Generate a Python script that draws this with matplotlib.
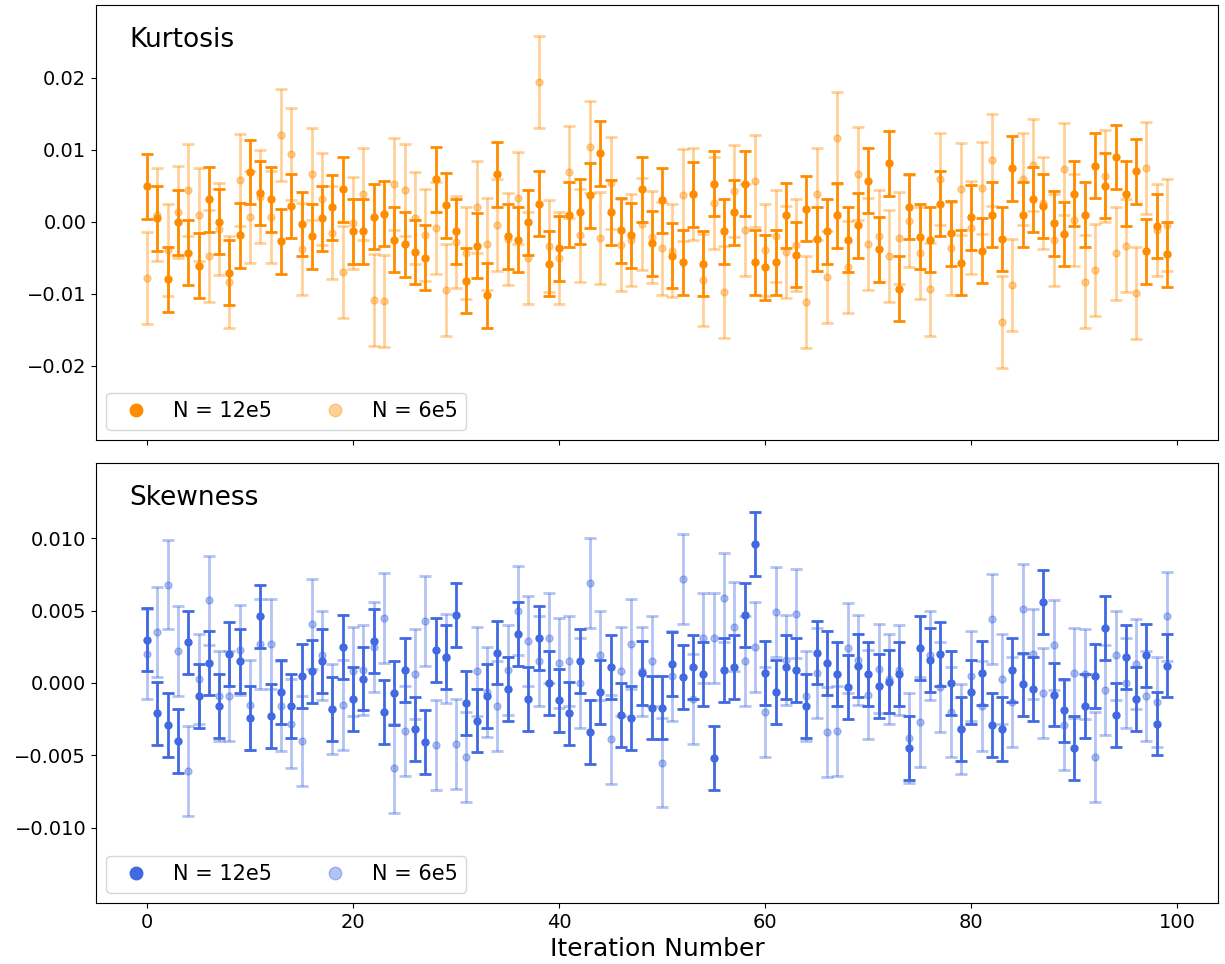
import numpy as np
import matplotlib
matplotlib.use("Agg")
import matplotlib.pyplot as plt
from matplotlib.lines import Line2D

iterations = list(range(100))

kurt_12e5 = [0.0049, 0.0005, -0.0080, -0.0001, -0.0043, -0.0061, 0.0031, 0.0000, -0.0071, -0.0019,
             0.0069, 0.0040, 0.0031, -0.0027, 0.0022, -0.0003, -0.0020, 0.0005, 0.0020, 0.0045,
             -0.0013, -0.0013, 0.0007, 0.0011, -0.0025, -0.0031, -0.0042, -0.0050, 0.0059, 0.0023,
             -0.0013, -0.0082, -0.0033, -0.0102, 0.0066, -0.0020, -0.0025, -0.0001, 0.0025, -0.0058,
             -0.0037, 0.0010, 0.0014, 0.0037, 0.0095, 0.0013, -0.0012, -0.0019, 0.0045, -0.0030,
             0.0030, -0.0047, -0.0056, 0.0038, -0.0058, 0.0053, -0.0013, 0.0013, 0.0053, -0.0056,
             -0.0063, -0.0056, 0.0009, -0.0046, 0.0018, -0.0024, -0.0013, 0.0009, -0.0025, -0.0005,
             0.0057, -0.0038, 0.0081, -0.0093, 0.0021, -0.0021, -0.0025, 0.0025, -0.0016, -0.0057,
             0.0006, -0.0040, 0.0010, -0.0024, 0.0074, 0.0010, 0.0031, 0.0022, -0.0002, -0.0017,
             0.0039, 0.0010, 0.0078, 0.0050, 0.0090, 0.0039, 0.0070, -0.0041, -0.0006, -0.0045]
kurt_6e5 = [-0.0078, 0.0010, -0.0039, 0.0013, 0.0044, 0.0010, -0.0047, -0.0010, -0.0084, 0.0058,
            0.0007, 0.0035, 0.0007, 0.0121, 0.0094, -0.0038, 0.0066, 0.0032, -0.0015, -0.0070,
            -0.0002, 0.0038, -0.0109, -0.0110, 0.0053, 0.0044, 0.0005, -0.0018, -0.0009, -0.0095,
            -0.0028, -0.0043, 0.0020, -0.0031, -0.0005, -0.0024, 0.0033, -0.0050, 0.0194, -0.0034,
            -0.0050, 0.0069, -0.0019, 0.0104, -0.0023, 0.0054, -0.0032, -0.0025, -0.0003, -0.0021,
            -0.0037, -0.0040, 0.0037, 0.0038, -0.0081, 0.0026, -0.0098, 0.0043, -0.0011, 0.0057,
            -0.0039, -0.0020, -0.0042, -0.0032, -0.0111, 0.0039, -0.0077, 0.0116, -0.0063, 0.0067,
            -0.0031, -0.0020, -0.0048, -0.0023, 0.0001, -0.0043, -0.0094, 0.0059, -0.0037, 0.0046,
            -0.0008, 0.0047, 0.0086, -0.0139, -0.0088, 0.0059, 0.0079, 0.0026, -0.0025, 0.0073,
            0.0002, -0.0083, -0.0067, 0.0064, -0.0044, -0.0033, -0.0099, 0.0075, -0.0011, -0.0004]

skew_12e5 = [0.0030, -0.0021, -0.0029, -0.0040, 0.0028, -0.0009, 0.0014, -0.0016, 0.0020, 0.0015,
             -0.0024, 0.0046, -0.0023, -0.0006, -0.0016, 0.0005, 0.0008, 0.0015, -0.0018, 0.0025,
             -0.0011, 0.0003, 0.0029, -0.0020, -0.0007, 0.0009, -0.0032, -0.0041, 0.0023, 0.0018,
             0.0047, -0.0014, -0.0026, -0.0009, 0.0021, -0.0004, 0.0034, -0.0011, 0.0031, 0.0000,
             -0.0012, -0.0021, 0.0015, -0.0034, -0.0006, 0.0011, -0.0022, -0.0024, 0.0007, -0.0017,
             -0.0017, 0.0013, 0.0004, 0.0011, 0.0006, -0.0052, 0.0009, 0.0011, 0.0047, 0.0096,
             0.0007, -0.0006, 0.0011, 0.0009, -0.0016, 0.0021, 0.0014, 0.0006, -0.0003, 0.0012,
             0.0006, -0.0002, 0.0001, 0.0006, -0.0045, 0.0024, 0.0016, 0.0020, 0.0000, -0.0032,
             -0.0006, 0.0007, -0.0029, -0.0032, 0.0009, -0.0001, -0.0004, 0.0056, -0.0008, -0.0019,
             -0.0045, -0.0016, 0.0005, 0.0038, -0.0022, 0.0018, -0.0011, 0.0019, -0.0028, 0.0012]
skew_6e5 = [0.0020, 0.0035, 0.0068, 0.0022, -0.0061, 0.0003, 0.0057, -0.0009, -0.0009, 0.0023,
            -0.0015, 0.0027, 0.0027, -0.0016, -0.0028, -0.0040, 0.0041, 0.0019, -0.0018, -0.0015,
            0.0008, 0.0009, 0.0025, 0.0045, -0.0059, -0.0033, 0.0006, 0.0043, -0.0043, 0.0017,
            -0.0042, -0.0051, 0.0008, -0.0006, -0.0016, 0.0009, 0.0050, 0.0029, 0.0015, 0.0031,
            0.0014, 0.0015, 0.0000, 0.0069, 0.0019, -0.0039, 0.0008, 0.0027, 0.0008, 0.0015,
            -0.0055, 0.0005, 0.0072, -0.0011, 0.0031, 0.0031, 0.0059, 0.0039, 0.0015, 0.0025,
            -0.0020, 0.0049, 0.0016, 0.0048, -0.0009, 0.0007, -0.0034, -0.0033, 0.0024, 0.0016,
            -0.0008, 0.0010, 0.0003, 0.0009, -0.0038, -0.0027, 0.0019, -0.0003, -0.0020, -0.0032,
            0.0005, -0.0016, 0.0044, 0.0003, -0.0013, 0.0051, 0.0020, -0.0007, 0.0026, -0.0029,
            0.0007, 0.0006, -0.0051, -0.0005, 0.0019, 0.0000, 0.0013, -0.0009, -0.0013, 0.0046]

kurt_err_12e5 = 0.0045
kurt_err_6e5 = 0.0064
skew_err_12e5 = 0.0022
skew_err_6e5 = 0.0031

labels = ["N = 12e5", "N = 6e5"]

fig = plt.figure(figsize=(12.25, 9.64), dpi=100)
ax1 = fig.add_axes([0.0784, 0.5436, 0.9159, 0.4512])
ax2 = fig.add_axes([0.0784, 0.0633, 0.9159, 0.4564], sharex=ax1)

def panel(ax, dark, light, edark, elight, color, title, ylim):
    ax.errorbar(iterations, light, yerr=elight, fmt='o', color=color, alpha=0.4,
                markersize=5, capsize=4, elinewidth=2, capthick=2, zorder=2)
    ax.errorbar(iterations, dark, yerr=edark, fmt='o', color=color,
                markersize=5, capsize=4, elinewidth=2, capthick=2, zorder=3)
    ax.set_ylim(*ylim)
    ax.text(0.03, 0.92, title, transform=ax.transAxes, fontsize=19, va='center', ha='left')
    handles = [Line2D([], [], marker='o', ls='', color=color, markersize=9),
               Line2D([], [], marker='o', ls='', color=color, alpha=0.4, markersize=9)]
    ax.legend(handles, labels, loc='lower left', ncol=2, fontsize=15)
    ax.tick_params(labelsize=14)

panel(ax1, kurt_12e5, kurt_6e5, kurt_err_12e5, kurt_err_6e5, 'darkorange', 'Kurtosis', (-0.0303, 0.0301))
panel(ax2, skew_12e5, skew_6e5, skew_err_12e5, skew_err_6e5, 'royalblue', 'Skewness', (-0.0152, 0.0152))
ax1.tick_params(labelbottom=False)
ax1.set_yticks([-0.02, -0.01, 0.0, 0.01, 0.02])
ax2.set_yticks([-0.010, -0.005, 0.0, 0.005, 0.010])
ax2.set_xlabel("Iteration Number", fontsize=18)
ax2.set_xticks([0, 20, 40, 60, 80, 100])

fig.savefig("out.png", dpi=100)
